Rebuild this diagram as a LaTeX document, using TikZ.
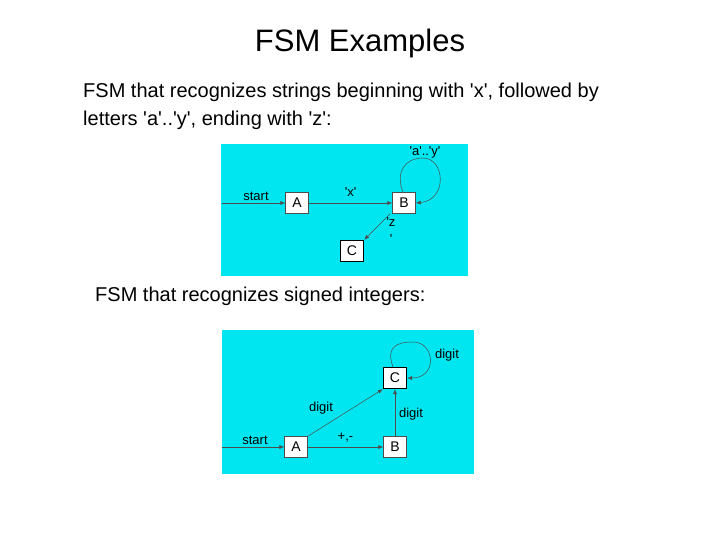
\documentclass[tikz,border=0pt]{standalone}
\usepackage{fontspec}
\setmainfont{Liberation Sans}
\usetikzlibrary{arrows.meta}
\definecolor{bgc}{RGB}{0,230,240}
\newcommand\qq{\textquotesingle}
\begin{document}
\begin{tikzpicture}[x=1pt,y=-1pt,
  st/.style={draw=black!70,fill=white,minimum width=23pt,minimum height=21pt,inner sep=0pt,font=\fontsize{14}{15}\selectfont},
  fin/.style={st,draw=black,line width=1.3pt},
  lb/.style={font=\fontsize{13}{14}\selectfont,inner sep=0pt},
  ar/.style={draw=black!70,line width=0.5pt,-{Latex[length=5pt,width=4pt]}}]
\useasboundingbox (0,0) rectangle (720,540);
\node[font=\fontsize{31}{34}\selectfont] (title) at (360,43) {FSM Examples};
\node[anchor=north west,align=left,inner sep=0pt,font=\fontsize{20}{28}\selectfont] (t1) at (83,83) {FSM that recognizes strings beginning with \qq x\qq, followed by\\ letters \qq a\qq..\qq y\qq, ending with \qq z\qq:};
\node[anchor=west,inner sep=0pt,font=\fontsize{20}{24}\selectfont] (t2) at (95,296) {FSM that recognizes signed integers:};
% diagram 1
\fill[bgc] (221,144) rectangle (468,276);
\node[st] (A1) at (297,203) {A};
\node[st] (B1) at (404,203) {B};
\node[fin] (C1) at (352,251) {C};
\coordinate (s1) at (222,203);
\node[lb] (st1) at (256,196) {start};
\draw[ar] (s1) -- (A1);
\draw[ar] (A1) -- node[lb,above=6pt] {\qq x\qq} (B1);
\draw[ar] (B1.south west) ++(-2,0) -- (C1.north east);
\node[lb,align=center] (z1) at (391,231) {\qq z\\[3pt]\qq};
\draw[ar] (403,192) .. controls (395,172) and (405,158) .. (423,158) .. controls (445,158) and (448,200) .. (B1.east);
\node[lb] (l1) at (425,152) {\qq a\qq..\qq y\qq};
% diagram 2
\fill[bgc] (222,330) rectangle (474,474);
\node[st] (A2) at (296,447) {A};
\node[st] (B2) at (395,447) {B};
\node[fin] (C2) at (395,378) {C};
\coordinate (s2) at (222,447);
\node[lb] (st2) at (255,440) {start};
\draw[ar] (s2) -- (A2);
\draw[ar] (A2) -- node[lb,above=5pt] {+,-} (B2);
\draw[ar] (A2.north east) -- (C2.south west);
\draw[ar] (B2) -- (C2);
\node[lb] (d1) at (321,408) {digit};
\node[lb] (d2) at (411,414) {digit};
\draw[ar] (393,367) .. controls (386,348) and (395,342) .. (413,342) .. controls (435,342) and (438,378) .. (C2.east);
\node[lb] (d3) at (447,355) {digit};
\end{tikzpicture}
\end{document}
